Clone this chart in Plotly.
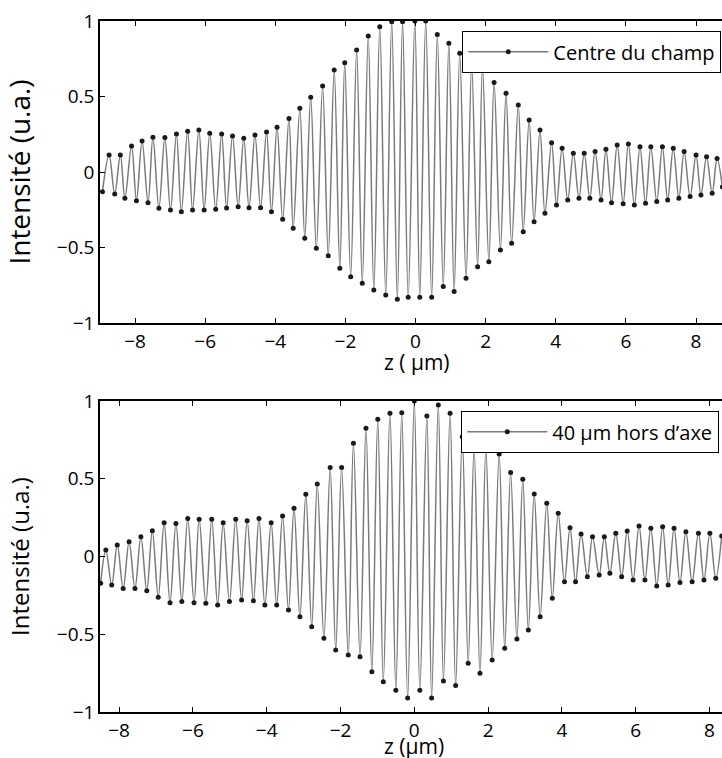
import plotly.graph_objects as go

# ---- Top panel: "Centre du champ" (fringe extrema) ----
z_top = [-8.93, -8.74, -8.58, -8.42, -8.29, -8.10, -7.96, -7.80, -7.63, -7.49,
         -7.32, -7.15, -6.99, -6.82, -6.68, -6.50, -6.36, -6.18, -6.03, -5.87,
         -5.70, -5.53, -5.39, -5.22, -5.06, -4.90, -4.75, -4.58, -4.42, -4.25,
         -4.11, -3.95, -3.79, -3.61, -3.49, -3.30, -3.16, -2.99, -2.83, -2.65,
         -2.49, -2.32, -2.16, -2.02, -1.85, -1.68, -1.52, -1.35, -1.19, -1.02,
         -0.85, -0.68, -0.52, -0.37, -0.21, -0.02, 0.12, 0.29, 0.46, 0.62,
         0.79, 0.95, 1.10, 1.26, 1.44, 1.60, 1.77, 1.91, 2.09, 2.24,
         2.42, 2.58, 2.74, 2.93, 3.07, 3.24, 3.38, 3.55, 3.69, 3.88,
         4.02, 4.18, 4.34, 4.50, 4.66, 4.81, 4.97, 5.12, 5.29, 5.43,
         5.59, 5.75, 5.92, 6.07, 6.24, 6.40, 6.56, 6.71, 6.88, 7.04,
         7.19, 7.35, 7.51, 7.66, 7.83, 8.00, 8.14, 8.30, 8.46, 8.60, 8.75]
i_top = [-0.13, 0.113, -0.146, 0.113, -0.174, 0.172, -0.19, 0.205, -0.203, 0.23,
         -0.24, 0.228, -0.252, 0.252, -0.263, 0.27, -0.252, 0.278, -0.252, 0.256,
         -0.247, 0.252, -0.238, 0.238, -0.23, 0.223, -0.236, 0.245, -0.236, 0.265,
         -0.263, 0.296, -0.313, 0.355, -0.373, 0.422, -0.439, 0.495, -0.505, 0.57,
         -0.555, 0.675, -0.638, 0.724, -0.693, 0.808, -0.737, 0.90, -0.781, 0.962,
         -0.815, 0.995, -0.843, 0.995, -0.829, 1.0, -0.829, 1.0, -0.829, 0.91,
         -0.759, 0.852, -0.792, 0.786, -0.704, 0.709, -0.627, 0.698, -0.594, 0.592,
         -0.517, 0.521, -0.472, 0.444, -0.395, 0.344, -0.329, 0.278, -0.274, 0.194,
         -0.219, 0.157, -0.185, 0.124, -0.174, 0.124, -0.174, 0.135, -0.185, 0.15,
         -0.203, 0.179, -0.21, 0.185, -0.219, 0.168, -0.207, 0.168, -0.196, 0.168,
         -0.185, 0.157, -0.174, 0.135, -0.163, 0.113, -0.152, 0.101, -0.14, 0.09, -0.10]

# ---- Bottom panel: "40 µm hors d'axe" ----
z_bot = [-8.50, -8.36, -8.20, -8.05, -7.89, -7.73, -7.57, -7.41, -7.25, -7.10,
         -6.94, -6.78, -6.62, -6.46, -6.30, -6.14, -5.97, -5.83, -5.65, -5.49,
         -5.33, -5.18, -5.01, -4.84, -4.68, -4.53, -4.36, -4.21, -4.05, -3.88,
         -3.73, -3.57, -3.41, -3.26, -3.10, -2.94, -2.78, -2.63, -2.45, -2.28,
         -2.13, -1.97, -1.79, -1.65, -1.47, -1.31, -1.15, -0.99, -0.84, -0.66,
         -0.50, -0.34, -0.18, 0.00, 0.15, 0.34, 0.47, 0.65, 0.79, 0.97,
         1.12, 1.30, 1.46, 1.62, 1.78, 1.94, 2.11, 2.30, 2.45, 2.61,
         2.78, 2.94, 3.09, 3.25, 3.41, 3.59, 3.74, 3.90, 4.07, 4.22,
         4.37, 4.52, 4.69, 4.83, 5.01, 5.15, 5.30, 5.46, 5.62, 5.77,
         5.93, 6.09, 6.25, 6.41, 6.57, 6.73, 6.88, 7.04, 7.20, 7.36,
         7.53, 7.70, 7.85, 8.01, 8.17, 8.33]
i_bot = [-0.172, 0.042, -0.183, 0.074, -0.205, 0.095, -0.205, 0.127, -0.22, 0.166,
         -0.262, 0.217, -0.297, 0.213, -0.29, 0.245, -0.297, 0.239, -0.301, 0.239,
         -0.312, 0.217, -0.29, 0.239, -0.28, 0.23, -0.284, 0.245, -0.312, 0.217,
         -0.312, 0.26, -0.344, 0.31, -0.387, 0.40, -0.451, 0.466, -0.526, 0.573,
         -0.601, 0.573, -0.633, 0.728, -0.644, 0.824, -0.741, 0.882, -0.805, 0.921,
         -0.86, 0.925, -0.91, 1.0, -0.86, 0.904, -0.91, 0.974, -0.80, 0.921,
         -0.83, 0.77, -0.687, 0.696, -0.751, 0.696, -0.666, 0.659, -0.59, 0.54,
         -0.53, 0.496, -0.473, 0.402, -0.387, 0.342, -0.269, 0.278, -0.162, 0.185,
         -0.162, 0.145, -0.13, 0.127, -0.119, 0.127, -0.108, 0.149, -0.13, 0.164,
         -0.151, 0.196, -0.151, 0.181, -0.19, 0.192, -0.183, 0.181, -0.168, 0.159,
         -0.162, 0.149, -0.151, 0.149, -0.14, 0.132]

y_ticks = [-1, -0.5, 0, 0.5, 1]
y_ticklabels = ["\u22121", "\u22120.5", "0", "0.5", "1"]
x_ticks = [-8, -6, -4, -2, 0, 2, 4, 6, 8]
x_ticklabels = ["\u22128", "\u22126", "\u22124", "\u22122", "0", "2", "4", "6", "8"]

FONT = "Open Sans, Noto Sans, sans-serif"
LINE_C = "#7a7a7a"
DOT_C = "#1a1a1a"

fig = go.Figure()
fig.add_trace(go.Scatter(
    x=z_top, y=i_top, mode="lines+markers", name="Centre du champ", showlegend=True,
    line=dict(color=LINE_C, width=1.5, shape="spline", smoothing=1.0),
    marker=dict(color=DOT_C, size=5),
    xaxis="x", yaxis="y", legend="legend"))
fig.add_trace(go.Scatter(
    x=z_bot, y=i_bot, mode="lines+markers", name="40 \u00b5m hors d\u2019axe", showlegend=True,
    line=dict(color=LINE_C, width=1.5, shape="spline", smoothing=1.0),
    marker=dict(color=DOT_C, size=5),
    xaxis="x2", yaxis="y2", legend="legend2"))

H_PAPER = 758 - 21 - 46
def py(px):
    return (712 - px) / H_PAPER

axis_common = dict(showgrid=False, zeroline=False, showline=True, linecolor="black",
                   linewidth=1.6, ticks="inside", ticklen=5, tickwidth=1,
                   tickcolor="black", tickfont=dict(family=FONT, size=19, color="black"),
                   automargin=False)

legend_common = dict(xanchor="right", yanchor="top", bgcolor="white",
                     bordercolor="black", borderwidth=1.3, itemwidth=80,
                     font=dict(family=FONT, size=20, color="black"),
                     tracegroupgap=0)

fig.update_layout(
    width=722, height=758,
    margin=dict(l=100, r=0, t=21, b=46),
    paper_bgcolor="white", plot_bgcolor="white",
    font=dict(family=FONT, color="black"),
    showlegend=True,
    xaxis=dict(domain=[0, 1], anchor="y", range=[-9.0, 8.74], tickvals=x_ticks,
               ticktext=x_ticklabels, mirror="ticks", **axis_common),
    yaxis=dict(domain=[py(323), py(21)], anchor="x", range=[-1, 1], tickvals=y_ticks,
               ticktext=y_ticklabels,
               title=dict(text="Intensit\u00e9 (u.a.)", font=dict(family=FONT, size=28), standoff=18),
               **axis_common),
    xaxis2=dict(domain=[0, 1], anchor="y2", range=[-8.518, 8.339], tickvals=x_ticks,
                ticktext=x_ticklabels, mirror="ticks", **axis_common),
    yaxis2=dict(domain=[py(712), py(401)], anchor="x2", range=[-1, 1], tickvals=y_ticks,
                ticktext=y_ticklabels,
                title=dict(text="Intensit\u00e9 (u.a.)", font=dict(family=FONT, size=24), standoff=20),
                **axis_common),
    legend=dict(x=(721 - 100) / 622, y=py(31), **legend_common),
    legend2=dict(x=(719 - 100) / 622, y=py(411), **legend_common),
    annotations=[
        dict(text="z ( \u00b5m)", xref="x", yref="paper", x=0.05, y=py(362),
             xanchor="center", yanchor="middle", showarrow=False,
             font=dict(family=FONT, size=21, color="black")),
        dict(text="z (\u00b5m)", xref="x2", yref="paper", x=0.0, y=py(746),
             xanchor="center", yanchor="middle", showarrow=False,
             font=dict(family=FONT, size=21, color="black")),
    ],
)

fig.write_html("out.html", config={"displayModeBar": False},
               post_script="document.body.style.margin='0';")
